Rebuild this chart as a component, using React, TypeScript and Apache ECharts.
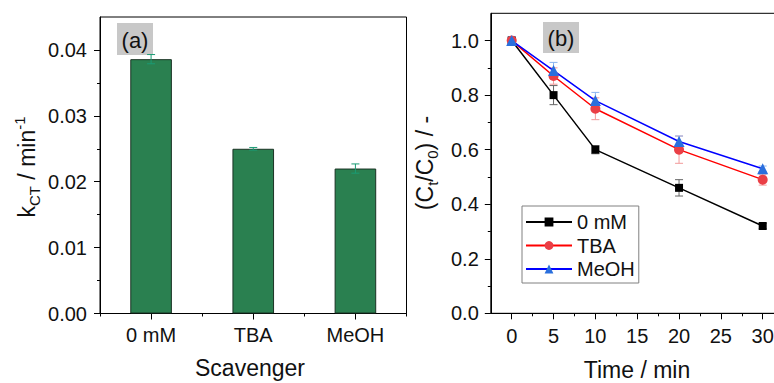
import React, { useEffect, useRef } from 'react';
import * as echarts from 'echarts';

// Panel (a)
const scavengers = ['0 mM', 'TBA', 'MeOH'];
const kValues = [0.0386, 0.025, 0.022];
const kErrors = [0.0007, 0.0002, 0.0007];
const kTicks = [0, 0.01, 0.02, 0.03, 0.04];
const kMinorTicks = [0.005, 0.015, 0.025, 0.035];

// Panel (b)
const seriesNames = ['0 mM', 'TBA', 'MeOH'];
const timePoints = [0, 5, 10, 20, 30];
const ratio0mM = [1.0, 0.8, 0.6, 0.46, 0.32];
const err0mM = [0.01, 0.035, 0.015, 0.03, 0.01];
const ratioTBA = [1.0, 0.87, 0.75, 0.6, 0.49];
const errTBA = [0.01, 0.03, 0.04, 0.05, 0.02];
const ratioMeOH = [1.0, 0.89, 0.78, 0.63, 0.53];
const errMeOH = [0.015, 0.03, 0.03, 0.02, 0.01];
const ratioTicks = [0, 0.2, 0.4, 0.6, 0.8, 1.0];
const ratioMinorTicks = [0.1, 0.3, 0.5, 0.7, 0.9];
const timeTicks = [0, 5, 10, 15, 20, 25, 30];
const timeMinorTicks = [2.5, 7.5, 12.5, 17.5, 22.5, 27.5];

const FONT = 'Liberation Sans, Arial, sans-serif';
const TXT = '#111';

const errRender = (color: string, cap: number) => (params: any, api: any) => {
  const x = api.value(0);
  const y = api.value(1);
  const e = api.value(2);
  const top = api.coord([x, y + e]);
  const bot = api.coord([x, y - e]);
  const st = { stroke: color, lineWidth: 1 };
  return {
    type: 'group',
    children: [
      { type: 'line', shape: { x1: top[0], y1: top[1], x2: bot[0], y2: bot[1] }, style: st },
      { type: 'line', shape: { x1: top[0] - cap, y1: top[1], x2: top[0] + cap, y2: top[1] }, style: st },
      { type: 'line', shape: { x1: bot[0] - cap, y1: bot[1], x2: bot[0] + cap, y2: bot[1] }, style: st },
    ],
  };
};

export default function App() {
  const ref = useRef<HTMLDivElement>(null);
  useEffect(() => {
    if (!ref.current) return;
    const chart = echarts.init(ref.current, undefined, { renderer: 'svg' });

    const axisLineStyle = { show: true, onZero: false, lineStyle: { color: '#000', width: 1 } };
    const hiddenLine = { show: false, onZero: false };
    const labelStyle = { color: TXT, fontSize: 20, fontFamily: FONT };

    const lineCfg = [
      { name: seriesNames[0], vals: ratio0mM, errs: err0mM, symbol: 'rect', size: 8, mColor: '#000', lColor: '#000', eColor: '#666' },
      { name: seriesNames[1], vals: ratioTBA, errs: errTBA, symbol: 'circle', size: 10, mColor: '#ea3f46', lColor: '#ff0000', eColor: '#f29a9a' },
      { name: seriesNames[2], vals: ratioMeOH, errs: errMeOH, symbol: 'triangle', size: 11, mColor: '#2a6fdd', lColor: '#0000ff', eColor: '#8ab4f0' },
    ];

    const option: any = {
      animation: false,
      backgroundColor: '#fff',
      grid: [
        { left: 100, top: 17, width: 306.5, height: 296.5, show: true, borderColor: '#000', borderWidth: 1, backgroundColor: 'transparent', outerBoundsMode: 'none' },
        { left: 490.8, top: 13.3, right: -2, height: 300, show: true, borderColor: '#000', borderWidth: 1, backgroundColor: 'transparent', outerBoundsMode: 'none' },
      ],
      xAxis: [
        {
          gridIndex: 0, type: 'category', data: scavengers, position: 'bottom',
          axisLine: axisLineStyle,
          axisTick: { show: true, alignWithLabel: true, length: 6, lineStyle: { color: '#000' } },
          axisLabel: { ...labelStyle, margin: 11 },
          splitLine: { show: false },
        },
        {
          gridIndex: 0, type: 'category', data: scavengers, position: 'bottom',
          axisLine: hiddenLine,
          axisTick: { show: true, alignWithLabel: false, length: 3, lineStyle: { color: '#000' } },
          axisLabel: { show: false },
          splitLine: { show: false },
        },
        {
          gridIndex: 1, type: 'value', min: -2.5, max: 31.59, position: 'bottom',
          axisLine: axisLineStyle,
          axisTick: { show: true, length: 6, customValues: timeTicks, lineStyle: { color: '#000' } },
          axisLabel: { ...labelStyle, margin: 13, customValues: timeTicks, formatter: (v: number) => String(v) },
          splitLine: { show: false },
        },
        {
          gridIndex: 1, type: 'value', min: -2.5, max: 31.59, position: 'bottom',
          axisLine: hiddenLine,
          axisTick: { show: true, length: 3, customValues: timeMinorTicks, lineStyle: { color: '#000' } },
          axisLabel: { show: false },
          splitLine: { show: false },
        },
      ],
      yAxis: [
        {
          gridIndex: 0, type: 'value', min: 0, max: 0.045, position: 'left',
          axisLine: axisLineStyle,
          axisTick: { show: true, length: 6, customValues: kTicks, lineStyle: { color: '#000' } },
          axisLabel: { ...labelStyle, margin: 13, customValues: kTicks, formatter: (v: number) => v.toFixed(2) },
          splitLine: { show: false },
        },
        {
          gridIndex: 0, type: 'value', min: 0, max: 0.045, position: 'left',
          axisLine: hiddenLine,
          axisTick: { show: true, length: 3, customValues: kMinorTicks, lineStyle: { color: '#000' } },
          axisLabel: { show: false },
          splitLine: { show: false },
        },
        {
          gridIndex: 1, type: 'value', min: 0, max: 1.1, position: 'left',
          axisLine: axisLineStyle,
          axisTick: { show: true, length: 6, customValues: ratioTicks, lineStyle: { color: '#000' } },
          axisLabel: { ...labelStyle, margin: 12, customValues: ratioTicks, formatter: (v: number) => v.toFixed(1) },
          splitLine: { show: false },
        },
        {
          gridIndex: 1, type: 'value', min: 0, max: 1.1, position: 'left',
          axisLine: hiddenLine,
          axisTick: { show: true, length: 3, customValues: ratioMinorTicks, lineStyle: { color: '#000' } },
          axisLabel: { show: false },
          splitLine: { show: false },
        },
      ],
      legend: {
        data: seriesNames,
        orient: 'vertical',
        left: 522,
        top: 206,
        itemWidth: 46,
        itemHeight: 11,
        itemGap: 3.5,
        padding: [6, 4, 4, 3],
        borderColor: '#808080',
        borderWidth: 1,
        backgroundColor: '#fff',
        textStyle: { color: TXT, fontSize: 20, fontFamily: FONT, lineHeight: 20 },
      },
      series: [
        {
          type: 'bar', name: 'k', xAxisIndex: 0, yAxisIndex: 0,
          data: kValues, barWidth: 41.6,
          itemStyle: { color: '#2a8050', borderColor: '#1a3324', borderWidth: 1 },
          z: 2,
        },
        {
          type: 'custom', name: 'kErr', xAxisIndex: 0, yAxisIndex: 0,
          data: kValues.map((v, i) => [i, v, kErrors[i]]),
          encode: { x: 0, y: 1 },
          renderItem: errRender('#1a9b74', 4),
          z: 3,
        },
        ...lineCfg.map((c) => ({
          type: 'custom', name: c.name + ' err', xAxisIndex: 2, yAxisIndex: 2,
          data: timePoints.map((t, i) => [t, c.vals[i], c.errs[i]]),
          encode: { x: 0, y: 1 },
          renderItem: errRender(c.eColor, 4),
          z: 2,
        })),
        ...lineCfg.map((c) => ({
          type: 'line', name: c.name, xAxisIndex: 2, yAxisIndex: 2,
          data: timePoints.map((t, i) => [t, c.vals[i]]),
          symbol: c.symbol, symbolSize: c.size,
          itemStyle: { color: c.mColor },
          lineStyle: { color: c.lColor, width: 1.5 },
          z: 4,
        })),
      ],
      graphic: [
        { type: 'rect', shape: { x: 117, y: 23, width: 36, height: 32 }, style: { fill: '#c8c8c8' } },
        { type: 'text', x: 135, y: 40, style: { text: '(a)', fontSize: 22, fontFamily: FONT, fill: TXT, align: 'center', verticalAlign: 'middle' } },
        { type: 'rect', shape: { x: 543, y: 22, width: 36, height: 31 }, style: { fill: '#c8c8c8' } },
        { type: 'text', x: 561, y: 38.5, style: { text: '(b)', fontSize: 22, fontFamily: FONT, fill: TXT, align: 'center', verticalAlign: 'middle' } },
        {
          type: 'text', x: 27, y: 167, rotation: Math.PI / 2,
          style: {
            text: '{n|k}{sub|CT}{n| / min}{sup|-1}',
            fontFamily: FONT, fill: TXT, align: 'center', verticalAlign: 'middle',
            rich: {
              n: { fontSize: 23, lineHeight: 30, fontFamily: FONT, fill: TXT },
              sub: { fontSize: 15, lineHeight: 15, verticalAlign: 'bottom', fontFamily: FONT, fill: TXT },
              sup: { fontSize: 15, lineHeight: 15, verticalAlign: 'top', fontFamily: FONT, fill: TXT },
            },
          },
        },
        {
          type: 'text', x: 425, y: 163, rotation: Math.PI / 2,
          style: {
            text: '{n|(C}{sub|t}{n|/C}{sub|0}{n|) / -}',
            fontFamily: FONT, fill: TXT, align: 'center', verticalAlign: 'middle',
            rich: {
              n: { fontSize: 23, lineHeight: 30, fontFamily: FONT, fill: TXT },
              sub: { fontSize: 15, lineHeight: 15, verticalAlign: 'bottom', fontFamily: FONT, fill: TXT },
            },
          },
        },
        { type: 'text', x: 250, y: 368, style: { text: 'Scavenger', fontSize: 23, fontFamily: FONT, fill: TXT, align: 'center', verticalAlign: 'middle' } },
        { type: 'text', x: 637, y: 370, style: { text: 'Time / min', fontSize: 23, fontFamily: FONT, fill: TXT, align: 'center', verticalAlign: 'middle' } },
      ],
    };

    chart.setOption(option);
    return () => chart.dispose();
  }, []);

  return <div ref={ref} style={{ position: 'absolute', left: 0, top: 0, width: 774, height: 383 }} />;
}
